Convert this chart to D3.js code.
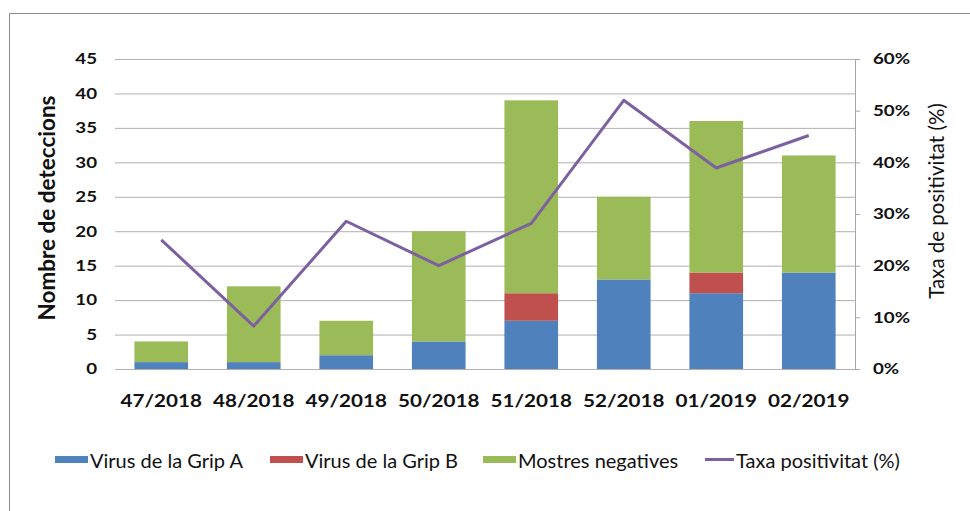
<!DOCTYPE html>
<html>
<head>
<meta charset="utf-8">
<script src="https://cdn.jsdelivr.net/npm/d3@7"></script>
<style>
  body { margin: 0; background: #fff; }
  svg { display: block; }
</style>
</head>
<body>
<div id="grafica"></div>
<script>
// dades llegides del grafic
var setmanes = ["47/2018", "48/2018", "49/2018", "50/2018", "51/2018", "52/2018", "01/2019", "02/2019"];
var gripA = [1, 1, 2, 4, 7, 13, 11, 14];
var gripB = [0, 0, 0, 0, 4, 0, 3, 0];
var negatives = [3, 11, 5, 16, 28, 12, 22, 17];
var taxa = [25, 8.3, 28.6, 20, 28.2, 52, 38.9, 45.2];
var ticksEsq = [0, 5, 10, 15, 20, 25, 30, 35, 40, 45];
var ticksDre = [0, 10, 20, 30, 40, 50, 60];

var W = 970, H = 511;
var margin = { top: 59, right: 115, bottom: 142, left: 115 };
var w = W - margin.left - margin.right,
    h = H - margin.top - margin.bottom;

var colors = ["#4f81bd", "#c0504d", "#9bbb59"];
var colorLinia = "#7d60a0";
var sx = 1.25; // les etiquetes originals son mes amples

var svg = d3.select("#grafica").append("svg")
    .attr("width", W)
    .attr("height", H);

// marc exterior
svg.append("path")
    .attr("d", "M9.5," + H + "V13.5H" + W)
    .attr("fill", "none")
    .attr("stroke", "#8c8c8c")
    .attr("stroke-width", 1);

var g = svg.append("g")
    .attr("transform", "translate(" + margin.left + "," + margin.top + ")");

var x = d3.scaleBand()
    .domain(setmanes)
    .range([0, w])
    .paddingInner(0.42)
    .paddingOuter(0.21);

var y = d3.scaleLinear().domain([0, 45]).range([h, 0]);
var y2 = d3.scaleLinear().domain([0, 60]).range([h, 0]);

// eix esquerre amb linies de graella
var eixY = g.append("g")
    .call(d3.axisLeft(y).tickValues(ticksEsq).tickSize(-w).tickPadding(0));
eixY.select(".domain").remove();
eixY.selectAll("line").attr("stroke", "#b0b0b0");
eixY.selectAll("text")
    .attr("x", -18 / sx)
    .attr("transform", "scale(" + sx + ",1)")
    .style("font-family", "Lato")
    .style("font-weight", "bold")
    .style("font-size", "15px")
    .attr("fill", "#111");

// eix dret
var eixY2 = g.append("g")
    .attr("transform", "translate(" + w + ",0)")
    .call(d3.axisRight(y2).tickValues(ticksDre).tickSize(5).tickSizeOuter(0)
          .tickFormat(function(d) { return d + "%"; }));
eixY2.select(".domain").attr("stroke", "#a6a6a6");
eixY2.selectAll("line").attr("stroke", "#a6a6a6");
eixY2.selectAll("text")
    .attr("x", 18 / sx)
    .attr("transform", "scale(" + sx + ",1)")
    .style("font-family", "Lato")
    .style("font-weight", "bold")
    .style("font-size", "15px")
    .attr("fill", "#111");

// barres apilades
var files = setmanes.map(function(s, i) {
    return { setmana: s, A: gripA[i], B: gripB[i], N: negatives[i] };
});
var stack = d3.stack().keys(["A", "B", "N"])(files);

g.selectAll(".serie")
    .data(stack)
    .enter().append("g")
    .attr("fill", function(d, i) { return colors[i]; })
    .selectAll("rect")
    .data(function(d) { return d; })
    .enter().append("rect")
    .attr("x", function(d) { return x(d.data.setmana); })
    .attr("y", function(d) { return y(d[1]); })
    .attr("width", x.bandwidth())
    .attr("height", function(d) { return y(d[0]) - y(d[1]); });

// eix X (etiquetes)
var eixX = g.append("g")
    .attr("transform", "translate(0," + h + ")")
    .call(d3.axisBottom(x).tickSize(0).tickPadding(0));
eixX.select(".domain").remove();
eixX.selectAll("text")
    .attr("y", 38)
    .attr("dy", 0)
    .attr("x", 0)
    .attr("transform", "scale(" + sx + ",1)")
    .style("font-family", "Lato")
    .style("font-weight", "bold")
    .style("font-size", "16.5px")
    .attr("fill", "#111");

// linia de taxa de positivitat
g.append("path")
    .datum(taxa)
    .attr("fill", "none")
    .attr("stroke", colorLinia)
    .attr("stroke-width", 3)
    .attr("stroke-linejoin", "round")
    .attr("d", d3.line()
        .x(function(d, i) { return x(setmanes[i]) + x.bandwidth() / 2; })
        .y(function(d) { return y2(d); }));

// titols dels eixos
svg.append("text")
    .attr("transform", "translate(55,208) rotate(-90)")
    .attr("text-anchor", "middle")
    .style("font-family", "Lato")
    .style("font-weight", "bold")
    .style("font-size", "22.5px")
    .attr("fill", "#111")
    .text("Nombre de deteccions");

svg.append("text")
    .attr("transform", "translate(944,201) rotate(-90)")
    .attr("text-anchor", "middle")
    .style("font-family", "Lato")
    .style("font-size", "20.5px")
    .attr("fill", "#111")
    .text("Taxa de positivitat (%)");

// llegenda
var llegenda = [
    { nom: "Virus de la Grip A", color: colors[0], tipus: "rect", x: 55 },
    { nom: "Virus de la Grip B", color: colors[1], tipus: "rect", x: 270 },
    { nom: "Mostres negatives", color: colors[2], tipus: "rect", x: 483 },
    { nom: "Taxa positivitat (%)", color: colorLinia, tipus: "line", x: 705 }
];
var ly = 461;
var items = svg.selectAll(".lleg")
    .data(llegenda)
    .enter().append("g")
    .attr("transform", function(d) { return "translate(" + d.x + "," + ly + ")"; });

items.filter(function(d) { return d.tipus === "rect"; })
    .append("rect")
    .attr("x", 0).attr("y", -5)
    .attr("width", 33).attr("height", 7)
    .attr("fill", function(d) { return d.color; });

items.filter(function(d) { return d.tipus === "line"; })
    .append("line")
    .attr("x1", 0).attr("x2", 29)
    .attr("y1", -1.5).attr("y2", -1.5)
    .attr("stroke", function(d) { return d.color; })
    .attr("stroke-width", 3);

items.append("text")
    .attr("x", function(d) { return d.tipus === "rect" ? 35 : 31; })
    .attr("y", 0)
    .attr("dy", "0.35em")
    .style("font-family", "Lato")
    .style("font-size", "20px")
    .attr("fill", "#111")
    .text(function(d) { return d.nom; });
</script>
</body>
</html>
